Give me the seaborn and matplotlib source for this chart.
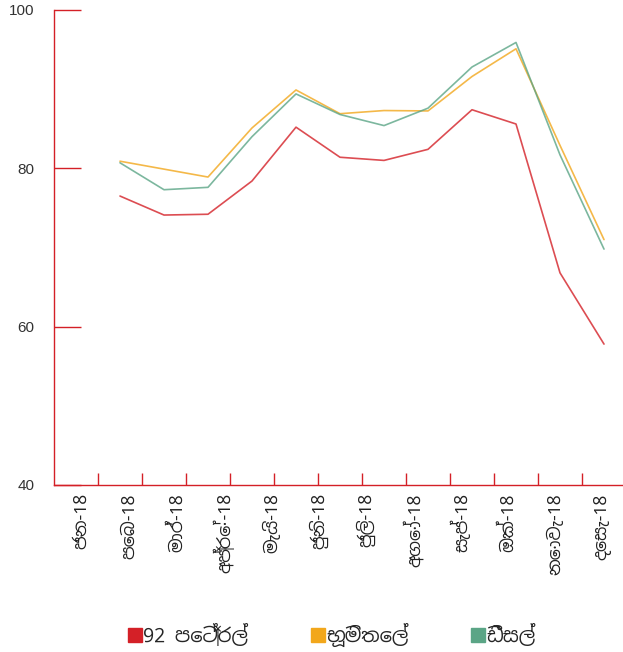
import numpy as np
import pandas as pd
import matplotlib
matplotlib.use('Agg')
import matplotlib.pyplot as plt
from matplotlib import font_manager
from matplotlib.ft2font import FT2Font
from matplotlib.lines import Line2D
import seaborn as sns

# Data
months = ['ජන-18', 'පෙබ-18', 'මාර්-18', 'අප්‍රේ-18', 'මැයි-18', 'ජුනි-18',
          'ජුලි-18', 'අගෝ-18', 'සැප්-18', 'ඔක්-18', 'නොවැ-18', 'දෙසැ-18']
petrol_92 = [76.5, 74.1, 74.2, 78.4, 85.2, 81.4, 81.0, 82.4, 87.4, 85.6, 66.8, 57.8]
kerosene = [80.9, 79.9, 78.9, 85.1, 89.9, 86.9, 87.3, 87.25, 91.6, 95.1, 82.9, 71.0]
diesel = [80.7, 77.3, 77.6, 84.0, 89.4, 86.8, 85.4, 87.6, 92.8, 95.9, 81.7, 69.8]
series_names = ['92 පෙට්‍රල්', 'භූමිතෙල්', 'ඩීසල්']
yticks = [40, 60, 80, 100]

colors = ['#d42027', '#f2a71b', '#5ba586']
axis_red = '#d42027'

# find a font that has Sinhala glyphs
sinhala_family = None
seen = set()
for f in font_manager.fontManager.ttflist:
    if f.fname in seen:
        continue
    seen.add(f.fname)
    try:
        cmap = FT2Font(f.fname).get_charmap()
    except Exception:
        continue
    if 0x0DA2 in cmap and 0x0DD9 in cmap:
        sinhala_family = f.name
        if 'Sinhala' in f.name:
            break

sns.set_style('white')
fam = ['Liberation Sans', 'DejaVu Sans']
if sinhala_family:
    fam = [sinhala_family] + fam
plt.rcParams['font.family'] = fam

df = pd.DataFrame({
    'pos': np.tile(np.arange(len(months)) + 1.5, 3),
    'value': petrol_92 + kerosene + diesel,
    'fuel': np.repeat(series_names, len(months)),
})

fig = plt.figure(figsize=(6.23, 6.52), dpi=100)
ax = fig.add_axes([54 / 623, (652 - 485) / 652, 1 - 54 / 623, (485 - 10) / 652])

sns.lineplot(data=df, x='pos', y='value', hue='fuel', palette=colors,
             linewidth=1.2, alpha=0.8, ax=ax, legend=False)

ax.set_xlim(0, (623 - 54) / 44)
ax.set_ylim(40, 100)
ax.set_xlabel('')
ax.set_ylabel('')

for s in ['top', 'right']:
    ax.spines[s].set_visible(False)
for s in ['left', 'bottom']:
    ax.spines[s].set_color(axis_red)
    ax.spines[s].set_linewidth(1.0)

# y axis
ax.set_yticks(yticks)
ax.set_yticklabels([str(v) for v in yticks], family='Liberation Sans')
ax.tick_params(axis='y', direction='in', length=19.5, width=1.0, color=axis_red,
               pad=14, labelsize=11, labelcolor='#333333', left=True)

# x axis: tick marks at band edges, labels placed as in the reference
ax.set_xticks(np.arange(1, 13), minor=True)
ax.set_xticks(0.636 + 1.075 * np.arange(len(months)))
ax.set_xticklabels(months, rotation=90, ha='center', va='top')
ax.tick_params(axis='x', which='minor', direction='in', length=9, width=1.0,
               color=axis_red, bottom=True)
ax.tick_params(axis='x', which='major', length=0, pad=6, labelsize=12.5,
               labelcolor='#222222')

handles = [Line2D([], [], marker='s', linestyle='none', markersize=10,
                  markerfacecolor=c, markeredgecolor=c) for c in colors]
fig.legend(handles, series_names, loc='center', bbox_to_anchor=(331 / 623, (652 - 635) / 652),
           ncol=3, frameon=False, fontsize=14, handletextpad=0.0,
           columnspacing=3.1, handlelength=0.9)

fig.savefig('out.png', dpi=100)
